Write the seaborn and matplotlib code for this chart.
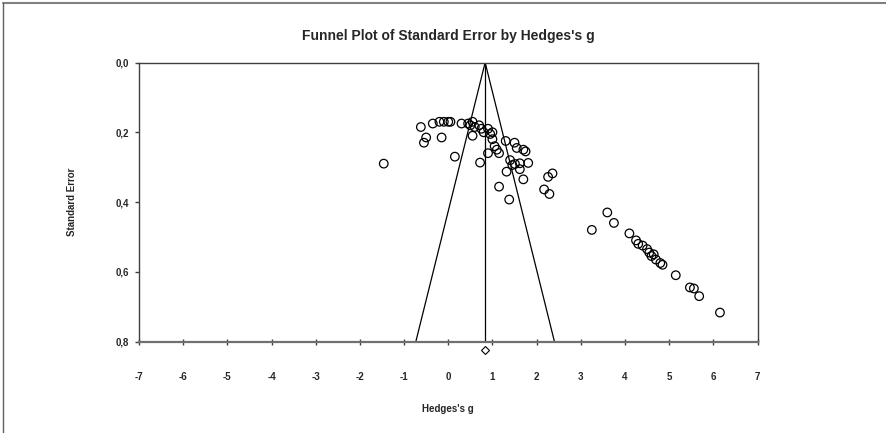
import matplotlib
matplotlib.use("Agg")
import matplotlib.pyplot as plt
import seaborn as sns
import numpy as np
import pandas as pd
from matplotlib.lines import Line2D

hedges_g = [-1.46, -0.62, -0.55, -0.50, -0.35, -0.20, -0.15, -0.10, 0.00, 0.05, 0.15,
            0.30, 0.45, 0.50, 0.55, 0.55, 0.60, 0.70, 0.72, 0.75, 0.80, 0.90, 0.90, 0.95,
            1.00, 1.00, 1.05, 1.10, 1.15, 1.15, 1.30, 1.32, 1.38, 1.40, 1.45, 1.50, 1.51,
            1.55, 1.62, 1.62, 1.70, 1.70, 1.75, 1.81, 2.17, 2.26, 2.29, 2.36,
            3.25, 3.60, 3.75, 4.10, 4.25, 4.30, 4.40, 4.50, 4.55, 4.60, 4.65, 4.70, 4.80,
            4.85, 5.15, 5.47, 5.56, 5.68, 6.15]
std_err = [0.290, 0.185, 0.230, 0.215, 0.175, 0.170, 0.215, 0.170, 0.170, 0.170, 0.270,
           0.175, 0.175, 0.180, 0.170, 0.210, 0.185, 0.180, 0.287, 0.190, 0.200, 0.190, 0.260, 0.205,
           0.200, 0.220, 0.240, 0.250, 0.260, 0.356, 0.225, 0.313, 0.393, 0.280, 0.294, 0.230, 0.291,
           0.245, 0.289, 0.306, 0.335, 0.250, 0.255, 0.288, 0.364, 0.328, 0.377, 0.318,
           0.480, 0.430, 0.460, 0.490, 0.510, 0.520, 0.525, 0.535, 0.545, 0.555, 0.550, 0.565, 0.575,
           0.580, 0.610, 0.645, 0.648, 0.670, 0.717]
mean_g = 0.835
se_max = 0.8
x_ticks = list(range(-7, 8))
y_ticks = [0.0, 0.2, 0.4, 0.6, 0.8]
y_tick_labels = ["0,0", "0,2", "0,4", "0,6", "0,8"]

sns.set_theme(style="white")
plt.rcParams['font.family'] = ['Liberation Sans', 'DejaVu Sans']

fig = plt.figure(figsize=(8.86, 4.33), dpi=100)
ax = fig.add_axes([139/886, 1-341.5/433, (757.5-139)/886, (341.5-62.5)/433])

df = pd.DataFrame({"g": hedges_g, "se": std_err})
sns.scatterplot(data=df, x="g", y="se", ax=ax, s=38, facecolor="none",
                edgecolor="black", linewidth=0.9, marker="o", zorder=3)

# funnel
ax.plot([mean_g - 1.96*se_max, mean_g, mean_g + 1.96*se_max], [se_max, 0, se_max],
        color="black", lw=0.9, zorder=2)
ax.plot([mean_g, mean_g], [0, se_max], color="black", lw=0.9, zorder=2)
ax.plot([mean_g], [0.824], marker="D", markersize=3.6, markerfacecolor="white",
        markeredgecolor="black", markeredgewidth=0.8, clip_on=False, zorder=4)

ax.set_xlim(-7, 7)
ax.set_ylim(0.8, 0.0)
ax.set_xticks(x_ticks)
ax.set_xticklabels([str(t) for t in x_ticks])
ax.set_yticks(y_ticks)
ax.set_yticklabels(y_tick_labels)

for sp in ["top", "right", "left"]:
    ax.spines[sp].set_color("#404040")
    ax.spines[sp].set_linewidth(1.0)
ax.spines["bottom"].set_color("#707070")
ax.spines["bottom"].set_linewidth(1.6)

ax.tick_params(axis="x", direction="inout", length=5, width=1.0, color="#404040",
               pad=19.5, labelsize=7)
ax.tick_params(axis="y", direction="out", length=3, width=1.0, color="#404040",
               pad=4, labelsize=7)
ax.tick_params(axis="x", which="both", bottom=True)
ax.tick_params(axis="y", which="both", left=True)
for lab in ax.get_xticklabels() + ax.get_yticklabels():
    lab.set_fontweight("bold")

ax.set_xlabel("Hedges's g", fontsize=7, fontweight="bold", labelpad=15.5)
ax.set_ylabel("Standard Error", fontsize=7, fontweight="bold", labelpad=28)
ax.set_title("Funnel Plot of Standard Error by Hedges's g", fontsize=10,
             fontweight="bold", pad=16)

# outer frame (top and left)
fig.add_artist(Line2D([3/886, 1], [1-3/433, 1-3/433], color="#808080", lw=1.5,
                      transform=fig.transFigure))
fig.add_artist(Line2D([3/886, 3/886], [0, 1-3/433], color="#606060", lw=1.0,
                      transform=fig.transFigure))

fig.savefig("out.png", dpi=100)
